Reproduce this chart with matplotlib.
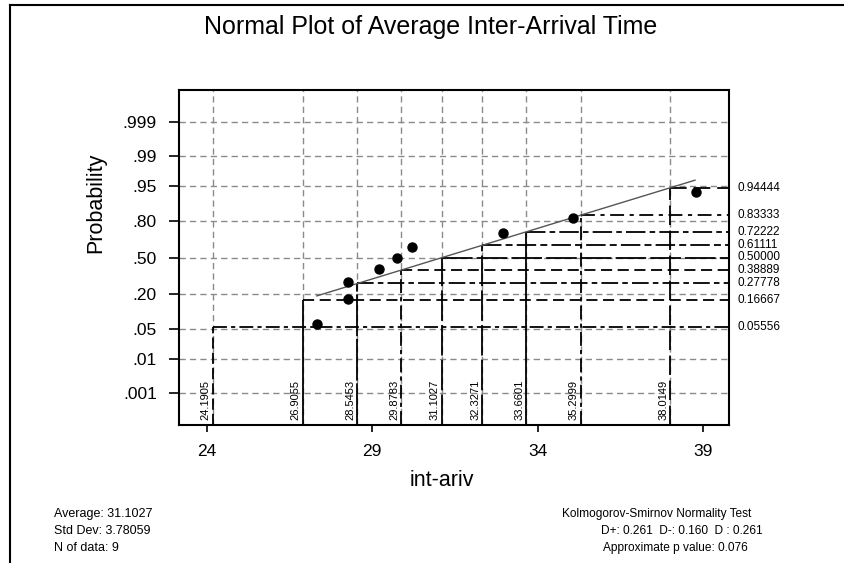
import math
import numpy as np
import matplotlib
matplotlib.use("Agg")
import matplotlib.pyplot as plt
from matplotlib import font_manager
from matplotlib.lines import Line2D
import matplotlib.transforms as mtransforms

# ---------------- data ----------------
data_x = [27.327, 28.258, 28.258, 29.219, 29.763, 30.207, 32.966, 35.073, 38.781]
data_p = [0.0635, 0.174, 0.2837, 0.392, 0.4909, 0.5958, 0.7087, 0.8176, 0.9324]

fit_x = [27.33, 38.76]
fit_p = [0.1897, 0.9616]

step_p = [0.05556, 0.16667, 0.27778, 0.38889, 0.50000, 0.61111, 0.72222, 0.83333, 0.94444]
step_x = [24.1905, 26.9055, 28.5453, 29.8783, 31.1027, 32.3271, 33.6601, 35.2999, 38.0149]
step_p_labels = ["0.05556", "0.16667", "0.27778", "0.38889", "0.50000",
                 "0.61111", "0.72222", "0.83333", "0.94444"]
step_x_labels = ["24.1905", "26.9055", "28.5453", "29.8783", "31.1027",
                 "32.3271", "33.6601", "35.2999", "38.0149"]

x_ticks = [24, 29, 34, 39]
y_ticks = [0.001, 0.01, 0.05, 0.20, 0.50, 0.80, 0.95, 0.99, 0.999]
y_tick_labels = [".001", ".01", ".05", ".20", ".50", ".80", ".95", ".99", ".999"]

title = "Normal Plot of Average Inter-Arrival Time"
xlabel = "int-ariv"
ylabel = "Probability"
stats_left = ["Average: 31.1027", "Std Dev: 3.78059", "N of data: 9"]
stats_right = ["Kolmogorov-Smirnov Normality Test", "D+: 0.261  D-: 0.160  D : 0.261",
               "Approximate p value: 0.076"]

# ---------------- normal probability scale ----------------
def ncdf(z):
    z = np.asarray(z, dtype=float)
    return 0.5 * (1.0 + np.vectorize(math.erf)(z / math.sqrt(2.0)))

def nppf(p):
    p = np.clip(np.asarray(p, dtype=float), 1e-15, 1 - 1e-15)
    a = [-3.969683028665376e+01, 2.209460984245205e+02, -2.759285104469687e+02,
         1.383577518672690e+02, -3.066479806614716e+01, 2.506628277459239e+00]
    b = [-5.447609879822406e+01, 1.615858368580409e+02, -1.556989798598866e+02,
         6.680131188771972e+01, -1.328068155288572e+01]
    c = [-7.784894002430293e-03, -3.223964580411365e-01, -2.400758277161838e+00,
         -2.549732539343734e+00, 4.374664141464968e+00, 2.938163982698783e+00]
    d = [7.784695709041462e-03, 3.224671290700398e-01, 2.445134137142996e+00,
         3.754408661907416e+00]
    plow = 0.02425
    phigh = 1 - plow
    out = np.zeros_like(p)
    lo = p < plow
    hi = p > phigh
    mid = ~(lo | hi)
    q = np.sqrt(-2 * np.log(p[lo]))
    out[lo] = (((((c[0]*q+c[1])*q+c[2])*q+c[3])*q+c[4])*q+c[5]) / \
              ((((d[0]*q+d[1])*q+d[2])*q+d[3])*q+1)
    q = np.sqrt(-2 * np.log(1 - p[hi]))
    out[hi] = -(((((c[0]*q+c[1])*q+c[2])*q+c[3])*q+c[4])*q+c[5]) / \
               ((((d[0]*q+d[1])*q+d[2])*q+d[3])*q+1)
    q = p[mid] - 0.5
    r = q * q
    out[mid] = (((((a[0]*r+a[1])*r+a[2])*r+a[3])*r+a[4])*r+a[5])*q / \
               (((((b[0]*r+b[1])*r+b[2])*r+b[3])*r+b[4])*r+1)
    return out

# ---------------- fonts ----------------
def has_font(name):
    try:
        font_manager.findfont(name, fallback_to_default=False)
        return True
    except Exception:
        return False

base = ["Liberation Sans", "DejaVu Sans"]
narrow = (["Liberation Sans Narrow"] if has_font("Liberation Sans Narrow") else []) + base
plt.rcParams["font.family"] = base
plt.rcParams["lines.scale_dashes"] = False

W, H = 844, 563
fig = plt.figure(figsize=(W / 100, H / 100), dpi=100)
fig.patch.set_facecolor("white")

ax_l, ax_r, ax_t, ax_b = 179, 729, 90, 425
ax = fig.add_axes([ax_l / W, 1 - ax_b / H, (ax_r - ax_l) / W, (ax_b - ax_t) / H])
ax.set_yscale("function", functions=(nppf, ncdf))
xlo, xhi = 23.166, 39.786
zlim = 3.833
ylo, yhi = float(ncdf(-zlim)), float(ncdf(zlim))
ax.set_xlim(xlo, xhi)
ax.set_ylim(ylo, yhi)

grid_kw = dict(color="#8a8a8a", lw=1.0, ls=(0, (4.5, 3.0)), zorder=1)
for p in y_ticks:
    ax.axhline(p, **grid_kw)
for x in step_x:
    ax.axvline(x, **grid_kw)

h_styles = [(0, (10, 3, 3, 3)), (0, (8, 4)), (0, (12, 3, 4, 3)), (0, (8, 4)), (0, (22, 3)),
            (0, (14, 3, 5, 3)), (0, (14, 3, 4, 3)), (0, (10, 4, 3, 4)), (0, (12, 5))]
v_styles = [(0, (8, 3)), "-", (0, (30, 2)), (0, (10, 3, 3, 3)), (0, (22, 3)),
            (0, (22, 3)), "-", (0, (10, 3, 3, 3)), (0, (14, 4))]

for p, x, hs, vs in zip(step_p, step_x, h_styles, v_styles):
    ax.hlines(p, x, xhi, colors="black", lw=1.3, linestyles=[hs], zorder=2)
    ax.vlines(x, ylo, p, colors="black", lw=1.3, linestyles=[vs], zorder=2)

ax.plot(fit_x, fit_p, color="#555555", lw=1.0, zorder=3)
ax.plot(data_x, data_p, "o", color="black", ms=6.5, zorder=4)

# labels of step levels (right side)
tr_r = mtransforms.blended_transform_factory(ax.transAxes, ax.transData)
for p, lab in zip(step_p, step_p_labels):
    ax.text(1 + 8 / (ax_r - ax_l), p, lab, transform=tr_r, ha="left", va="center",
            fontsize=8.5, clip_on=False)
# rotated labels of quantiles (bottom)
tr_b = mtransforms.blended_transform_factory(ax.transData, ax.transAxes)
for x, lab in zip(step_x, step_x_labels):
    t = ax.text(x, 5 / (ax_b - ax_t), lab, transform=tr_b, ha="right", va="bottom",
                rotation=90, fontsize=8.0)
    t.set_transform(tr_b + mtransforms.ScaledTranslation(-2 / 100, 0, fig.dpi_scale_trans))

ax.set_xticks(x_ticks)
ax.set_xticklabels([str(v) for v in x_ticks])
ax.set_yticks(y_ticks)
ax.set_yticklabels(y_tick_labels)
ax.minorticks_off()
ax.tick_params(axis="x", direction="out", length=5, width=1.2, pad=8.5, labelsize=12.5)
ax.tick_params(axis="y", direction="out", length=7, width=1.2, pad=9, labelsize=12.5)
for s in ax.spines.values():
    s.set_linewidth(1.5)
    s.set_color("black")

# figure-level text
fig.text(431 / W, 1 - 27 / H, title, ha="center", va="center", fontsize=18)
fig.text(96 / W, 1 - 203 / H, ylabel, ha="center", va="center", rotation=90, fontsize=15.5)
fig.text(442 / W, 1 - 481 / H, xlabel, ha="center", va="center", fontsize=15.5)

for i, s in enumerate(stats_left):
    fig.text(54 / W, 1 - (514 + 17 * i) / H, s, ha="left", va="center",
             fontsize=9.0, family=narrow)
centers = [657, 682, 675]
for i, s in enumerate(stats_right):
    fig.text(centers[i] / W, 1 - (514 + 17 * i) / H, s, ha="center", va="center",
             fontsize=8.6, family=narrow)

# frame lines of the figure (top and left)
fig.add_artist(Line2D([10 / W, 10 / W], [0, 1 - 5 / H], color="black", lw=1.5,
                      transform=fig.transFigure))
fig.add_artist(Line2D([10 / W, 1], [1 - 5 / H, 1 - 5 / H], color="black", lw=1.5,
                      transform=fig.transFigure))

fig.savefig("out.png", dpi=100)
